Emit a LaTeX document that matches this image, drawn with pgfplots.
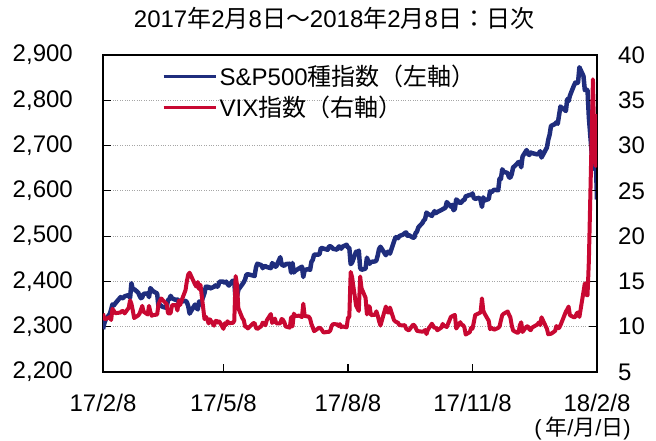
\documentclass[border=0pt]{standalone}
\usepackage{pgfplots}
\pgfplotsset{compat=1.18}
\usepackage{fontspec}
\setmainfont{Liberation Sans}
\newfontfamily\jpfont{Noto Sans CJK JP}
\newcommand\J[1]{{\jpfont #1}}
\newcommand\sz{\fontsize{24}{28.8}\selectfont}
\definecolor{spblue}{RGB}{31,45,125}
\definecolor{vixred}{RGB}{200,8,50}
\begin{document}
\sz
\begin{tikzpicture}
\path[use as bounding box] (-103pt,-69pt) rectangle (553pt,372pt);
\begin{axis}[
  at={(0,0)}, anchor=south west,
  width=494pt, height=317pt, scale only axis,
  xmin=0, xmax=365, ymin=2200, ymax=2900,
  xtick={0,89,181,273,365},
  xticklabels={17/2/8,17/5/8,17/8/8,17/11/8,18/2/8},
  ytick={2200,2300,...,2900},
  xtick pos=bottom, ytick pos=left,
  tick align=inside,
  major tick length=8pt,
  every tick/.style={black, line width=1.2pt},
  axis line style={-, black, line width=1.5pt},
  ymajorgrids, grid style={gray!70, dotted, line width=0.8pt},
  /pgf/number format/assume math mode=true,
  /pgf/number format/1000 sep={,},
  yticklabel style={font=\sz, inner sep=0pt, anchor=east, xshift=-30pt},
  xticklabel style={font=\sz, inner sep=0pt, anchor=north, yshift=-22pt},
  legend style={at={(0.119,0.978)}, anchor=north west, draw=none, fill=none,
    font=\sz, inner sep=0pt, row sep=2pt, nodes={inner sep=2.5pt, anchor=west}},
  legend image code/.code={\draw[#1, line width=3.2pt] (0pt,0pt) -- (52pt,0pt);},
]
\addplot[spblue, line width=4.5pt, line join=round] coordinates {
(0,2294.7)(1,2307.9)(2,2316.1)(5,2328.3)(6,2337.6)(7,2349.3)(8,2347.2)(9,2351.2)(13,2365.4)(14,2362.8)(15,2363.8)(16,2367.3)(19,2369.8)(20,2363.6)(21,2396.0)(22,2381.9)(23,2383.1)(26,2375.3)(27,2368.4)(28,2363.0)(29,2364.9)(30,2372.6)(33,2373.5)(34,2365.5)(35,2385.3)(36,2381.4)(37,2378.3)(40,2373.5)(41,2344.0)(42,2348.5)(43,2346.0)(44,2344.0)(47,2341.6)(48,2358.6)(49,2361.1)(50,2368.1)(51,2362.7)(54,2358.8)(55,2360.2)(56,2353.0)(57,2357.5)(58,2355.5)(61,2357.2)(62,2353.8)(63,2344.9)(64,2329.0)(68,2349.0)(69,2342.2)(70,2338.2)(71,2355.8)(72,2348.7)(75,2374.2)(76,2388.6)(77,2387.5)(78,2388.8)(79,2384.2)(82,2388.3)(83,2391.2)(84,2388.1)(85,2389.5)(86,2399.3)(89,2399.4)(90,2396.9)(91,2399.6)(92,2394.4)(93,2390.9)(96,2402.3)(97,2400.7)(98,2357.0)(99,2365.7)(100,2381.7)(103,2394.0)(104,2398.4)(105,2404.4)(106,2415.1)(107,2415.8)(111,2412.9)(112,2411.8)(113,2430.1)(114,2439.1)(117,2436.1)(118,2429.3)(119,2433.1)(120,2433.8)(121,2431.8)(124,2429.4)(125,2440.4)(126,2437.9)(127,2432.5)(128,2433.2)(131,2453.5)(132,2437.0)(133,2435.6)(134,2434.5)(135,2438.3)(138,2439.1)(139,2419.4)(140,2440.7)(141,2419.7)(142,2423.4)(145,2429.0)(147,2432.5)(148,2409.8)(149,2425.2)(152,2427.4)(153,2425.5)(154,2443.3)(155,2447.8)(156,2459.3)(159,2459.1)(160,2460.6)(161,2473.8)(162,2473.5)(163,2472.5)(166,2469.9)(167,2477.1)(168,2477.8)(169,2475.4)(170,2472.1)(173,2470.3)(174,2476.4)(175,2477.6)(176,2472.2)(177,2476.8)(180,2480.9)(181,2474.9)(182,2474.0)(183,2438.2)(184,2441.3)(187,2465.8)(188,2464.6)(189,2468.1)(190,2430.0)(191,2425.6)(194,2428.4)(195,2452.5)(196,2444.0)(197,2439.0)(198,2443.1)(201,2444.2)(202,2446.3)(203,2457.6)(204,2471.7)(205,2476.6)(209,2457.9)(210,2465.5)(211,2465.1)(212,2461.4)(215,2488.1)(216,2496.5)(217,2498.4)(218,2495.6)(219,2500.2)(222,2503.9)(223,2506.7)(224,2508.2)(225,2500.6)(226,2502.2)(229,2496.7)(230,2496.8)(231,2507.0)(232,2510.1)(233,2519.4)(236,2529.1)(237,2534.6)(238,2537.7)(239,2552.1)(240,2549.3)(243,2544.7)(244,2550.6)(245,2555.2)(246,2550.9)(247,2553.2)(250,2557.6)(251,2559.4)(252,2561.3)(253,2562.1)(254,2575.2)(257,2565.0)(258,2569.1)(259,2557.2)(260,2560.4)(261,2581.1)(264,2572.8)(265,2575.3)(266,2579.4)(267,2579.9)(268,2587.8)(271,2591.1)(272,2590.6)(273,2594.4)(274,2584.6)(275,2582.3)(278,2584.8)(279,2578.9)(280,2564.6)(281,2585.6)(282,2578.9)(285,2582.1)(286,2599.0)(287,2597.1)(289,2602.4)(292,2601.4)(293,2627.0)(294,2626.1)(295,2647.6)(296,2642.2)(299,2639.4)(300,2629.6)(301,2629.3)(302,2637.0)(303,2651.5)(306,2660.0)(307,2664.1)(308,2662.9)(309,2652.0)(310,2675.8)(313,2690.2)(314,2681.5)(315,2679.3)(316,2684.6)(317,2683.3)(321,2680.5)(322,2682.6)(323,2687.5)(324,2673.6)(328,2695.8)(329,2713.1)(330,2724.0)(331,2743.2)(334,2747.7)(335,2751.3)(336,2748.2)(337,2767.6)(338,2786.2)(342,2776.4)(343,2802.6)(344,2798.0)(345,2810.3)(348,2833.0)(349,2839.1)(350,2837.5)(351,2839.3)(352,2872.9)(355,2853.5)(356,2822.4)(357,2823.8)(358,2822.0)(359,2762.1)(362,2648.9)(363,2695.1)(364,2681.7)(365,2581.0)
};
\addlegendentry{S\&P500\J{種指数（左軸）}}
\addlegendimage{vixred}
\addlegendentry{VIX\J{指数（右軸）}}
\end{axis}
\begin{axis}[
  at={(0,0)}, anchor=south west,
  width=494pt, height=317pt, scale only axis,
  xmin=0, xmax=365, ymin=5, ymax=40,
  ytick={5,10,...,40},
  axis x line=none, axis y line*=right,
  tick align=inside,
  major tick length=8pt,
  every tick/.style={black, line width=1.2pt},
  axis line style={-, black, line width=1.5pt},
  y axis line style={-},
  /pgf/number format/assume math mode=true,
  yticklabel style={font=\sz, inner sep=0pt, anchor=west, xshift=21pt},
]
\addplot[vixred, line width=4pt, line join=round] coordinates {
(0,11.45)(1,10.88)(2,10.85)(5,11.07)(6,10.74)(7,11.97)(8,11.76)(9,11.49)(13,11.57)(14,11.74)(15,11.71)(16,11.47)(19,12.09)(20,12.92)(21,12.54)(22,11.81)(23,10.96)(26,11.24)(27,11.45)(28,11.86)(29,12.30)(30,11.66)(33,11.35)(34,12.30)(35,11.63)(36,11.21)(37,11.28)(40,11.34)(41,12.47)(42,12.81)(43,13.12)(44,12.96)(47,12.50)(48,11.53)(49,11.42)(50,11.54)(51,12.37)(54,12.38)(55,11.79)(56,12.89)(57,12.39)(58,12.87)(61,14.05)(62,15.07)(63,15.77)(64,15.96)(68,14.66)(69,14.42)(70,14.93)(71,14.15)(72,14.63)(75,10.84)(76,11.10)(77,10.85)(78,10.36)(79,10.82)(82,10.11)(83,10.59)(84,10.68)(85,10.46)(86,10.57)(89,9.77)(90,10.38)(91,10.21)(92,10.60)(93,10.40)(96,10.42)(97,10.65)(98,15.59)(99,14.66)(100,12.04)(103,10.93)(104,10.72)(105,10.02)(106,9.99)(107,9.81)(111,10.38)(112,10.41)(113,9.89)(114,9.75)(117,10.07)(118,10.45)(119,10.39)(120,10.16)(121,10.70)(124,11.40)(125,10.42)(126,10.64)(127,10.90)(128,10.38)(131,10.37)(132,10.86)(133,10.75)(134,10.48)(135,10.02)(138,9.90)(139,11.06)(140,10.03)(141,11.44)(142,11.18)(145,11.22)(147,11.07)(148,12.54)(149,11.19)(152,11.11)(153,10.89)(154,10.30)(155,9.90)(156,9.51)(159,9.82)(160,9.89)(161,9.79)(162,9.58)(163,9.36)(166,9.43)(167,9.43)(168,9.60)(169,10.11)(170,10.29)(173,10.26)(174,10.09)(175,10.28)(176,9.95)(177,10.03)(180,9.93)(181,10.96)(182,11.11)(183,16.04)(184,15.51)(187,12.33)(188,12.04)(189,11.74)(190,15.55)(191,14.26)(194,13.19)(195,11.35)(196,12.25)(197,12.23)(198,11.28)(201,11.32)(202,11.70)(203,11.22)(204,10.59)(205,10.13)(209,12.23)(210,11.63)(211,11.55)(212,12.12)(215,10.73)(216,10.58)(217,10.50)(218,10.44)(219,10.17)(222,10.15)(223,10.18)(224,9.78)(225,9.67)(226,9.59)(229,10.21)(230,10.17)(231,9.87)(232,9.55)(233,9.51)(236,9.45)(237,9.51)(238,9.63)(239,9.19)(240,9.65)(243,10.33)(244,10.08)(245,9.85)(246,9.91)(247,9.61)(250,9.91)(251,10.31)(252,10.07)(253,10.05)(254,9.97)(257,11.07)(258,11.16)(259,11.23)(260,11.30)(261,9.80)(264,10.50)(265,10.18)(266,10.20)(267,9.93)(268,9.14)(271,9.40)(272,9.89)(273,9.78)(274,10.50)(275,11.29)(278,11.50)(279,11.59)(280,13.13)(281,11.76)(282,11.43)(285,10.65)(286,9.73)(287,9.88)(289,9.67)(292,9.87)(293,10.03)(294,10.70)(295,11.28)(296,11.43)(299,11.68)(300,11.33)(301,11.02)(302,10.16)(303,9.58)(306,9.34)(307,9.34)(308,10.18)(309,10.49)(310,9.42)(313,10.03)(314,10.03)(315,9.72)(316,9.62)(317,9.90)(321,10.25)(322,10.47)(323,10.18)(324,11.04)(328,9.77)(329,9.15)(330,9.22)(331,9.22)(334,9.52)(335,10.08)(336,9.82)(337,9.88)(338,10.16)(342,11.66)(343,11.91)(344,12.22)(345,11.27)(348,11.03)(349,11.10)(350,11.47)(351,11.58)(352,11.08)(355,13.84)(356,14.79)(357,13.54)(358,13.47)(359,17.31)(362,37.32)(363,29.98)(364,27.73)(365,33.46)
};
\end{axis}
\node[anchor=base] at (231pt,344pt) {2017\J{年}2\J{月}8\J{日～}2018\J{年}2\J{月}8\J{日：日次}};
\node[anchor=base east, inner sep=0pt, font=\fontsize{22}{26}\selectfont] at (528pt,-63.5pt) {(\,\J{年}/\J{月}/\J{日})};
\end{tikzpicture}
\end{document}
